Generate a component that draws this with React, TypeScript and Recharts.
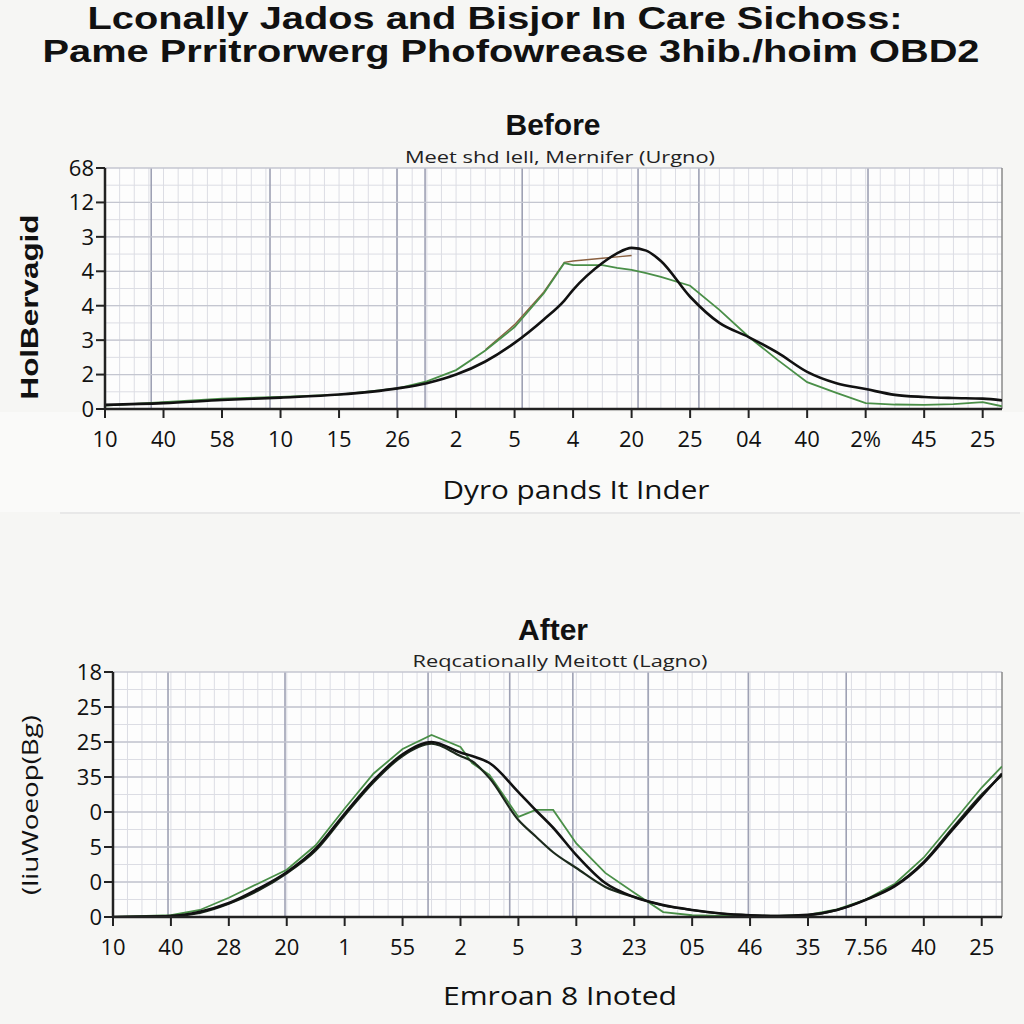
import React from 'react';
import {
    LineChart,
    Line,
    XAxis,
    YAxis,
    ReferenceLine,
    ReferenceArea,
} from 'recharts';

// ---- Before panel ----
const beforeX = [0, 1, 2, 3, 4, 5, 5.5, 6, 6.5, 7, 7.5, 7.85, 8, 8.5, 8.75, 9, 9.25, 9.5, 10, 10.5, 11, 11.5, 12, 12.5, 13, 13.5, 14, 14.5, 15, 15.33];
const beforeBlack = [0.12, 0.17, 0.26, 0.33, 0.42, 0.6, 0.75, 1.0, 1.38, 1.92, 2.6, 3.15, 3.46, 4.24, 4.52, 4.68, 4.6, 4.3, 3.26, 2.5, 2.09, 1.63, 1.08, 0.75, 0.58, 0.41, 0.35, 0.32, 0.3, 0.25];
const beforeGreen = [0.1, 0.2, 0.3, 0.35, 0.42, 0.6, 0.8, 1.13, 1.7, 2.38, 3.36, 4.24, 4.18, 4.18, 4.1, 4.04, 3.95, 3.84, 3.58, 2.88, 2.1, 1.42, 0.78, 0.47, 0.17, 0.13, 0.12, 0.14, 0.2, 0.08];
const beforeBrown = [null, null, null, null, null, null, null, null, 1.72, 2.45, 3.4, 4.26, 4.3, 4.38, 4.42, 4.46, null, null, null, null, null, null, null, null, null, null, null, null, null, null];
const beforeXLabels = ['10', '40', '58', '10', '15', '26', '2', '5', '4', '20', '25', '04', '40', '2%', '45', '25'];
const beforeYLabels = ['0', '2', '3', '4', '4', '3', '12', '68'];
const beforeMajors = [0.79, 2.82, 4.99, 5.47, 7.13, 9.11, 10.15, 13.04];

// ---- After panel ----
const afterX = [0, 1, 1.5, 2, 2.5, 3, 3.5, 4, 4.5, 5, 5.5, 6, 6.2, 6.5, 7, 7.3, 7.6, 8, 8.5, 9, 9.5, 10, 10.5, 11, 11.5, 12, 12.5, 13, 13.5, 14, 14.5, 15, 15.35];
const afterBlack = [0, 0.03, 0.15, 0.4, 0.8, 1.28, 1.95, 2.95, 3.9, 4.65, 5.0, 4.7, 4.6, 4.4, 3.57, 3.05, 2.55, 1.77, 0.97, 0.57, 0.34, 0.2, 0.1, 0.05, 0.03, 0.06, 0.2, 0.49, 0.88, 1.55, 2.5, 3.45, 4.1];
const afterDark = [0, 0.03, 0.12, 0.38, 0.75, 1.25, 1.9, 2.9, 3.85, 4.6, 4.95, 4.6, 4.45, 3.97, 2.77, 2.3, 1.85, 1.4, 0.86, 0.57, 0.33, 0.2, 0.1, 0.05, 0.03, 0.05, 0.2, 0.5, 0.9, 1.58, 2.55, 3.5, 4.05];
const afterGreen = [0, 0.05, 0.2, 0.55, 0.95, 1.35, 2.05, 3.1, 4.1, 4.8, 5.2, 4.86, 4.4, 4.06, 2.86, 3.06, 3.06, 2.1, 1.26, 0.69, 0.14, 0.05, 0.03, 0.03, 0.03, 0.06, 0.22, 0.5, 0.95, 1.7, 2.7, 3.7, 4.3];
const afterXLabels = ['10', '40', '28', '20', '1', '55', '2', '5', '3', '23', '05', '46', '35', '7.56', '40', '25'];
const afterYLabels = ['0', '0', '5', '0', '35', '25', '25', '18'];
const afterMajors = [0.95, 2.97, 5.44, 6.85, 7.94, 9.24, 10.97, 12.66];

type Series = { key: string; color: string; width: number; curve: 'monotone' | 'linear' };

type PanelProps = {
    data: Record<string, number | null>[];
    series: Series[];
    xLabels: string[];
    yLabels: string[];
    majors: number[];
    xMax: number;
    top: number;
    marginLeft: number;
    marginTop: number;
    plotHeight: number;
};

const yTicks = [0, 1, 2, 3, 4, 5, 6, 7];

function Panel({ data, series, xLabels, yLabels, majors, xMax, top, marginLeft, marginTop, plotHeight }: PanelProps) {
    const xTicks = xLabels.map((_, i) => i);
    const minorX: number[] = [];
    for (let v = 0.25; v < xMax; v += 0.25) minorX.push(v);
    const minorY: number[] = [];
    for (let v = 0.5; v < 7; v += 0.5) minorY.push(v);

    return (
        <div style={{ position: 'absolute', left: 0, top }}>
            <LineChart
                width={1024}
                height={marginTop + plotHeight + 46}
                data={data}
                margin={{ top: marginTop, right: 22, bottom: 0, left: marginLeft - 70 }}
            >
                <ReferenceArea x1={0} x2={xMax} y1={0} y2={7} fill='#fdfdfd' fillOpacity={1} stroke='none' />
                {minorX.map((v) => (
                    <ReferenceLine key={'mx' + v} x={v} stroke='#dcdde4' strokeWidth={1} />
                ))}
                {minorY.map((v) => (
                    <ReferenceLine key={'my' + v} y={v} stroke='#dcdde4' strokeWidth={1} />
                ))}
                {majors.map((m) => (
                    <ReferenceLine key={'mj' + m} x={m} stroke='#9ea1b4' strokeWidth={1.6} />
                ))}
                {yTicks.slice(1).map((t) => (
                    <ReferenceLine key={'h' + t} y={t} stroke='#c4c6d0' strokeWidth={1.3} />
                ))}
                <ReferenceLine x={xMax} stroke='#8a8a8a' strokeWidth={1.5} />
                <XAxis
                    dataKey='x'
                    type='number'
                    domain={[0, xMax]}
                    ticks={xTicks}
                    interval={0}
                    allowDataOverflow
                    tickFormatter={(v) => xLabels[v] ?? ''}
                    tickLine={{ stroke: '#222', strokeWidth: 2 }}
                    tickSize={9}
                    tickMargin={13}
                    axisLine={{ stroke: '#222', strokeWidth: 2.5 }}
                    tick={{ fill: '#111', fontSize: 22, fontFamily: '"Open Sans", sans-serif' }}
                    height={46}
                />
                <YAxis
                    type='number'
                    domain={[0, 7]}
                    ticks={yTicks}
                    interval={0}
                    allowDataOverflow
                    tickFormatter={(v) => yLabels[v] ?? ''}
                    tickLine={{ stroke: '#222', strokeWidth: 2 }}
                    tickSize={9}
                    tickMargin={2}
                    axisLine={{ stroke: '#222', strokeWidth: 2.5 }}
                    tick={{ fill: '#111', fontSize: 22, fontFamily: '"Open Sans", sans-serif' }}
                    width={70}
                />
                {series.map((s) => (
                    <Line
                        key={s.key}
                        dataKey={s.key}
                        type={s.curve}
                        stroke={s.color}
                        strokeWidth={s.width}
                        dot={false}
                        connectNulls={false}
                        isAnimationActive={false}
                    />
                ))}
            </LineChart>
        </div>
    );
}

const beforeData = beforeX.map((x, i) => ({
    x,
    brown: beforeBrown[i],
    green: beforeGreen[i],
    black: beforeBlack[i],
}));

const afterData = afterX.map((x, i) => ({
    x,
    green: afterGreen[i],
    dark: afterDark[i],
    black: afterBlack[i],
}));

const beforeSeries: Series[] = [
    { key: 'brown', color: '#8a6040', width: 1.4, curve: 'linear' },
    { key: 'green', color: '#4a8f48', width: 1.8, curve: 'linear' },
    { key: 'black', color: '#111', width: 2.6, curve: 'monotone' },
];

const afterSeries: Series[] = [
    { key: 'green', color: '#4a8f48', width: 1.8, curve: 'linear' },
    { key: 'dark', color: '#1c2a1c', width: 2.2, curve: 'monotone' },
    { key: 'black', color: '#111', width: 2.6, curve: 'monotone' },
];

export default function App() {
    const titleFont = '"Liberation Sans", Arial, sans-serif';
    const bodyFont = '"Open Sans", sans-serif';
    return (
        <div style={{ position: 'absolute', left: 0, top: 0, width: 1024, height: 1024, background: '#f6f6f4', overflow: 'hidden' }}>
            <div style={{ position: 'absolute', left: 0, top: 412, width: 1024, height: 100, background: '#fafaf9' }} />
            <div style={{ position: 'absolute', left: 60, top: 512, width: 960, height: 2, background: '#e8e8e8' }} />
            <Panel
                data={beforeData}
                series={beforeSeries}
                xLabels={beforeXLabels}
                yLabels={beforeYLabels}
                majors={beforeMajors}
                xMax={15.33}
                top={150}
                marginLeft={105}
                marginTop={18}
                plotHeight={241}
            />
            <Panel
                data={afterData}
                series={afterSeries}
                xLabels={afterXLabels}
                yLabels={afterYLabels}
                majors={afterMajors}
                xMax={15.35}
                top={650}
                marginLeft={113}
                marginTop={22}
                plotHeight={245}
            />
            <svg width={1024} height={1024} style={{ position: 'absolute', left: 0, top: 0, pointerEvents: 'none' }}>
                <text x={495} y={29} textAnchor='middle' fontFamily={titleFont} fontWeight='bold' fontSize={31} fill='#111' textLength={815} lengthAdjust='spacingAndGlyphs'>
                    Lconally Jados and Bisjor In Care Sichoss:
                </text>
                <text x={511} y={62} textAnchor='middle' fontFamily={titleFont} fontWeight='bold' fontSize={31} fill='#111' textLength={937} lengthAdjust='spacingAndGlyphs'>
                    Pame Prritrorwerg Phofowrease 3hib./hoim OBD2
                </text>
                <text x={553} y={135} textAnchor='middle' fontFamily={titleFont} fontWeight='bold' fontSize={30} fill='#111'>
                    Before
                </text>
                <text x={560} y={163} textAnchor='middle' fontFamily={bodyFont} fontSize={16} fill='#222' textLength={310} lengthAdjust='spacingAndGlyphs'>
                    Meet shd lell, Mernifer (Urgno)
                </text>
                <text x={576} y={499} textAnchor='middle' fontFamily={bodyFont} fontSize={26} fill='#111' textLength={267} lengthAdjust='spacingAndGlyphs'>
                    Dyro pands It Inder
                </text>
                <text transform='translate(38,307) rotate(-90)' textAnchor='middle' fontFamily={titleFont} fontWeight='bold' fontSize={24} fill='#111' textLength={185} lengthAdjust='spacingAndGlyphs'>
                    HolBervagid
                </text>
                <text x={553} y={640} textAnchor='middle' fontFamily={titleFont} fontWeight='bold' fontSize={30} fill='#111'>
                    After
                </text>
                <text x={560} y={667} textAnchor='middle' fontFamily={bodyFont} fontSize={16} fill='#222' textLength={295} lengthAdjust='spacingAndGlyphs'>
                    Reqcationally Meitott (Lagno)
                </text>
                <text x={560} y={1005} textAnchor='middle' fontFamily={bodyFont} fontSize={26} fill='#111' textLength={234} lengthAdjust='spacingAndGlyphs'>
                    Emroan 8 Inoted
                </text>
                <text transform='translate(38,805) rotate(-90)' textAnchor='middle' fontFamily={bodyFont} fontSize={22} fill='#111' textLength={180} lengthAdjust='spacingAndGlyphs'>
                    (liuWoeop(Bg)
                </text>
            </svg>
        </div>
    );
}
